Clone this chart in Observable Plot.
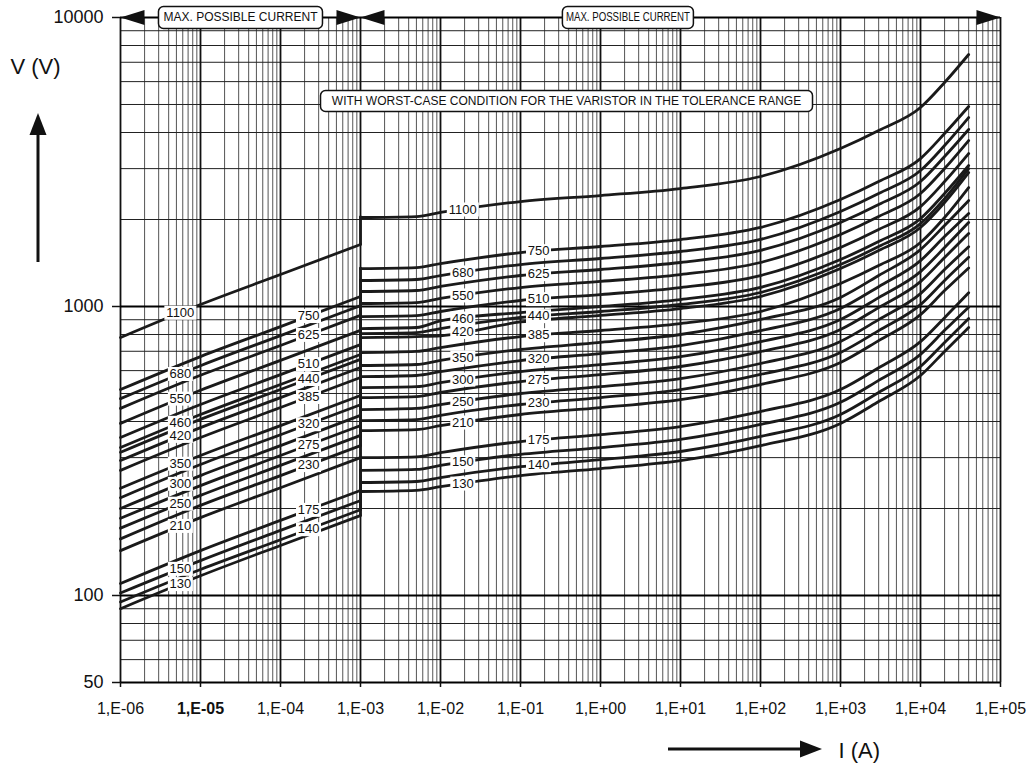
<!DOCTYPE html>
<html>
<head>
<meta charset="utf-8">
<script src="https://cdn.jsdelivr.net/npm/d3@7"></script>
<script src="https://cdn.jsdelivr.net/npm/@observablehq/plot@0.6"></script>
<style>
  body { margin: 0; background: #fff; }
  #chart svg { display: block; }
</style>
</head>
<body>
<div id="chart"></div>
<script>
// Varistor rated voltages (V rms), one V/I curve each
const ratings = [130, 140, 150, 175, 210, 230, 250, 275, 300, 320, 350, 385, 420, 440, 460, 510, 550, 625, 680, 750, 1100];

// Leakage region (A), lower tolerance curve
const leftCurrent = [1e-6, 1e-5, 1e-4, 1e-3];
const leftVoltage = [
  [90, 117, 149, 189],
  [95, 123, 156, 198],
  [102, 132, 168, 213],
  [110, 143, 182, 231],
  [143, 186, 236, 300],
  [157, 205, 260, 330],
  [171, 222, 282, 358],
  [185, 240, 305, 387],
  [200, 260, 330, 420],
  [218, 284, 360, 457],
  [235, 305, 387, 492],
  [271, 352, 447, 568],
  [293, 381, 484, 615],
  [313, 407, 516, 656],
  [325, 423, 537, 682],
  [352, 458, 581, 738],
  [394, 513, 651, 827],
  [444, 578, 733, 932],
  [480, 624, 793, 1007],
  [516, 671, 852, 1083],
  [781, 1016, 1290, 1639]
];

// Clamping region (A), upper tolerance curve
const rightCurrent = [1e-3, 5e-3, 1e-2, 1e-1, 1, 10, 100, 1000, 3000, 1e4, 2e4, 4e4];
const rightVoltage = [
  [229, 231, 238, 260, 275, 293, 330, 394, 469, 577, 699, 846],
  [246, 248, 256, 279, 295, 315, 355, 423, 504, 620, 751, 909],
  [271, 273, 282, 308, 325, 347, 391, 466, 555, 683, 827, 995],
  [300, 302, 312, 341, 360, 384, 433, 516, 614, 756, 915, 1115],
  [372, 375, 387, 423, 447, 476, 537, 640, 762, 937, 1135, 1360],
  [403, 406, 420, 458, 484, 516, 582, 693, 825, 1015, 1230, 1480],
  [440, 444, 458, 500, 528, 563, 635, 757, 901, 1108, 1342, 1610],
  [484, 488, 504, 550, 581, 620, 698, 832, 991, 1219, 1477, 1789],
  [524, 528, 545, 595, 629, 671, 756, 901, 1073, 1320, 1599, 1953],
  [572, 577, 595, 650, 687, 732, 825, 984, 1171, 1441, 1745, 2098],
  [625, 630, 651, 710, 751, 800, 902, 1075, 1280, 1574, 1907, 2326],
  [693, 699, 721, 787, 826, 873, 961, 1201, 1386, 1665, 2032, 2580],
  [781, 787, 792, 884, 931, 984, 1083, 1353, 1562, 1876, 2290, 2908],
  [806, 812, 839, 916, 961, 1016, 1118, 1397, 1612, 1936, 2363, 3002],
  [839, 846, 892, 953, 1000, 1057, 1164, 1454, 1678, 2015, 2460, 3075],
  [923, 930, 961, 1049, 1100, 1163, 1280, 1600, 1846, 2217, 2706, 3384],
  [1024, 1032, 1066, 1163, 1221, 1290, 1420, 1775, 2048, 2460, 3002, 3753],
  [1127, 1136, 1173, 1280, 1343, 1420, 1563, 1953, 2254, 2707, 3304, 4100],
  [1230, 1240, 1280, 1397, 1466, 1550, 1706, 2132, 2460, 2954, 3606, 4508],
  [1353, 1364, 1408, 1537, 1613, 1705, 1877, 2345, 2706, 3250, 3967, 4920],
  [2032, 2048, 2115, 2308, 2421, 2560, 2817, 3521, 4064, 4882, 5957, 7446]
];

// Curve labels: two staggered sets, each placed at two currents
const labelSetA = [1100, 680, 550, 460, 420, 350, 300, 250, 210, 150, 130];
const labelSetB = [750, 625, 510, 440, 385, 320, 275, 230, 175, 140];
const labelCurrentsA = [5.6e-6, 0.019];
const labelCurrentsB = [2.24e-4, 0.168];

// Axes
const decadeTicks = [1e-6, 1e-5, 1e-4, 1e-3, 1e-2, 1e-1, 1, 10, 100, 1000, 1e4, 1e5];
const voltageTicks = [50, 100, 1000, 10000];
const minorVoltage = [60, 70, 80, 90, 200, 300, 400, 500, 600, 700, 800, 900,
                      2000, 3000, 4000, 5000, 6000, 7000, 8000, 9000];
const minorCurrent = decadeTicks.slice(0, -1).flatMap(d => [2, 3, 4, 5, 6, 7, 8, 9].map(k => k * d));

// Annotations
const maxCurrentText = "MAX. POSSIBLE CURRENT";
const worstCaseText = "WITH WORST-CASE CONDITION FOR THE VARISTOR IN THE TOLERANCE RANGE";
const rangeArrows = [
  {current: 1e-6, side: "left"}, {current: 1e-3, side: "right"},
  {current: 1e-3, side: "left"}, {current: 1e5, side: "right"}
];

// ---- tidy rows: leakage and clamping parts of each curve ----
const rows = [];
const jumps = [];
ratings.forEach((r, i) => {
  leftCurrent.forEach((c, j) => rows.push({rating: r, part: "leak", current: c, voltage: leftVoltage[i][j]}));
  rightCurrent.forEach((c, j) => rows.push({rating: r, part: "clamp", current: c, voltage: rightVoltage[i][j]}));
  // step between the two tolerance limits at 1 mA
  jumps.push({rating: r, current: 1e-3, from: leftVoltage[i][3], to: rightVoltage[i][0]});
});

// voltage on a curve at a given current (log-log interpolation between readings)
function voltageAt(rating, current) {
  const i = ratings.indexOf(rating);
  const cs = current < 1e-3 ? leftCurrent : rightCurrent;
  const vs = current < 1e-3 ? leftVoltage[i] : rightVoltage[i];
  let k = 0;
  while (k < cs.length - 2 && current > cs[k + 1]) k++;
  const t = (Math.log(current) - Math.log(cs[k])) / (Math.log(cs[k + 1]) - Math.log(cs[k]));
  return Math.exp(Math.log(vs[k]) + t * (Math.log(vs[k + 1]) - Math.log(vs[k])));
}

const labels = [
  ...labelCurrentsA.flatMap(c => labelSetA.map(r => ({rating: r, current: c}))),
  ...labelCurrentsB.flatMap(c => labelSetB.map(r => ({rating: r, current: c})))
].map(d => ({...d, voltage: voltageAt(d.rating, d.current), text: String(d.rating)}));

// ---- symbols ----
function boxSymbol(w, h, r = 0) {
  return {
    draw(ctx) {
      const x0 = -w / 2, x1 = w / 2, y0 = -h / 2, y1 = h / 2;
      if (!r) { ctx.rect(x0, y0, w, h); return; }
      ctx.moveTo(x0 + r, y0);
      ctx.lineTo(x1 - r, y0);
      ctx.arcTo(x1, y0, x1, y0 + r, r);
      ctx.lineTo(x1, y1 - r);
      ctx.arcTo(x1, y1, x1 - r, y1, r);
      ctx.lineTo(x0 + r, y1);
      ctx.arcTo(x0, y1, x0, y1 - r, r);
      ctx.lineTo(x0, y0 + r);
      ctx.arcTo(x0, y0, x0 + r, y0, r);
      ctx.closePath();
    }
  };
}
function headSymbol(dir) {
  const s = dir === "right" ? -1 : 1;
  return {
    draw(ctx) {
      ctx.moveTo(0, 0);
      ctx.lineTo(s * 24, -7.5);
      ctx.lineTo(s * 24, 7.5);
      ctx.closePath();
    }
  };
}

function formatCurrent(d) {
  const e = Math.round(Math.log10(d));
  return "1,E" + (e < 0 ? "-" : "+") + String(Math.abs(e)).padStart(2, "0");
}

const font = "'Liberation Sans', Arial, Helvetica, sans-serif";
const ink = "#1a1a1a";

const plot = Plot.plot({
  width: 1036,
  height: 770,
  marginLeft: 120,
  marginRight: 36,
  marginTop: 17,
  marginBottom: 88,
  x: {type: "log", domain: [1e-6, 1e5]},
  y: {type: "log", domain: [50, 10000]},
  style: {fontFamily: font, background: "#fff", color: "#111", overflow: "visible"},
  marks: [
    // grid
    Plot.ruleX(minorCurrent, {stroke: "#555", strokeWidth: 1}),
    Plot.ruleY(minorVoltage, {stroke: "#222", strokeWidth: 1}),
    Plot.ruleX(decadeTicks, {stroke: "#111", strokeWidth: 1.8}),
    Plot.ruleY(voltageTicks, {stroke: "#000", strokeWidth: 2}),

    // V/I curves
    Plot.ruleX(jumps, {x: "current", y1: "from", y2: "to", stroke: ink, strokeWidth: 2.8, strokeLinecap: "round"}),
    Plot.line(rows, {x: "current", y: "voltage", z: d => d.rating + d.part, curve: "monotone-x",
                     stroke: ink, strokeWidth: 2.8, strokeLinejoin: "round", strokeLinecap: "round"}),

    // curve labels on white boxes
    Plot.dot(labels.filter(d => d.text.length === 3), {x: "current", y: "voltage", symbol: boxSymbol(25, 14), fill: "#fff", stroke: null}),
    Plot.dot(labels.filter(d => d.text.length === 4), {x: "current", y: "voltage", symbol: boxSymbol(32, 14), fill: "#fff", stroke: null}),
    Plot.text(labels, {x: "current", y: "voltage", text: "text", fontSize: 13, fill: "#111"}),

    // max possible current ranges along the top edge
    ...rangeArrows.map(d => Plot.dot([d], {x: "current", y: () => 10000, symbol: headSymbol(d.side), fill: "#111", stroke: null})),
    Plot.dot([{current: 3.16e-5, voltage: 10000}], {x: "current", y: "voltage", symbol: boxSymbol(164, 22, 5), fill: "#fff", stroke: "#111", strokeWidth: 1.5}),
    Plot.text([{current: 3.16e-5, voltage: 10000}], {x: "current", y: "voltage", text: () => maxCurrentText, fontSize: 12, fill: "#111"}),
    Plot.dot([{current: 2.2, voltage: 10000}], {x: "current", y: "voltage", symbol: boxSymbol(131, 22, 5), fill: "#fff", stroke: "#111", strokeWidth: 1.5}),
    Plot.text([{current: 2.2, voltage: 10000}], {x: "current", y: "voltage", text: () => maxCurrentText, fontSize: 12, fill: "#111"}),
    Plot.dot([{current: 0.376, voltage: 5140}], {x: "current", y: "voltage", symbol: boxSymbol(492, 21, 5), fill: "#fff", stroke: "#111", strokeWidth: 1.5}),
    Plot.text([{current: 0.376, voltage: 5140}], {x: "current", y: "voltage", text: () => worstCaseText, fontSize: 12, fill: "#111"}),

    // axes
    Plot.axisX(decadeTicks.filter(d => d !== 1e-5), {tickFormat: formatCurrent, tickSize: 5, tickPadding: 15, fontSize: 16, strokeWidth: 1.5, label: null}),
    Plot.axisX([1e-5], {tickFormat: formatCurrent, tickSize: 5, tickPadding: 15, fontSize: 16, fontWeight: "bold", strokeWidth: 1.5, label: null}),
    Plot.axisY(voltageTicks, {tickFormat: d => String(d), tickSize: 8, tickPadding: 9, fontSize: 18, strokeWidth: 1.5, label: null}),

    // axis titles
    Plot.text(["V (V)"], {text: d => d, frameAnchor: "top-left", lineAnchor: "middle", dx: -110, dy: 49, textAnchor: "start", fontSize: 22, fill: "#111"}),
    Plot.text(["I (A)"], {text: d => d, frameAnchor: "bottom-left", lineAnchor: "middle", dx: 718, dy: 68, textAnchor: "start", fontSize: 22, fill: "#111"})
  ]
});

const svg = d3.select(plot);

// the right-hand range box keeps its text compressed to the box width
const rangeTexts = svg.selectAll("text").filter(function() { return this.textContent === maxCurrentText; }).nodes();
if (rangeTexts.length > 1) {
  d3.select(rangeTexts[rangeTexts.length - 1])
    .attr("textLength", 124)
    .attr("lengthAdjust", "spacingAndGlyphs");
}

// direction arrows beside the axis titles
const arrows = svg.append("g").attr("fill", "#111").attr("stroke", "#111");
arrows.append("line").attr("x1", 38).attr("x2", 38).attr("y1", 262).attr("y2", 132).attr("stroke-width", 3);
arrows.append("path").attr("d", "M38,113L29.5,135L46.5,135Z").attr("stroke", "none");
arrows.append("line").attr("x1", 668).attr("x2", 802).attr("y1", 749).attr("y2", 749).attr("stroke-width", 3);
arrows.append("path").attr("d", "M822,749L800,740.5L800,757.5Z").attr("stroke", "none");

document.getElementById("chart").append(plot);
</script>
</body>
</html>
